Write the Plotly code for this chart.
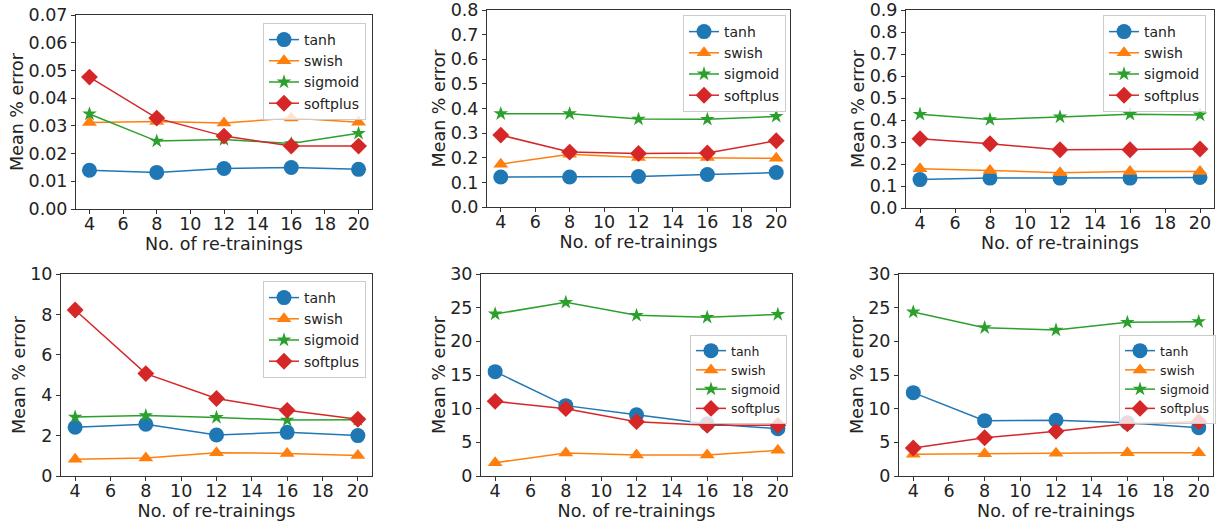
import plotly.graph_objects as go

x_vals = [4, 8, 12, 16, 20]
series_names = ["tanh", "swish", "sigmoid", "softplus"]

p1 = {"tanh": [0.0140, 0.0132, 0.0146, 0.0150, 0.0143],
      "swish": [0.0312, 0.0316, 0.0310, 0.0328, 0.0313],
      "sigmoid": [0.0343, 0.0245, 0.0251, 0.0236, 0.0273],
      "softplus": [0.0476, 0.0328, 0.0263, 0.0227, 0.0227]}
p2 = {"tanh": [0.122, 0.122, 0.124, 0.132, 0.140],
      "swish": [0.174, 0.214, 0.201, 0.201, 0.198],
      "sigmoid": [0.379, 0.379, 0.357, 0.356, 0.368],
      "softplus": [0.292, 0.223, 0.217, 0.219, 0.269]}
p3 = {"tanh": [0.129, 0.136, 0.136, 0.136, 0.139],
      "swish": [0.178, 0.171, 0.160, 0.166, 0.166],
      "sigmoid": [0.426, 0.402, 0.414, 0.426, 0.423],
      "softplus": [0.315, 0.292, 0.265, 0.265, 0.268]}
p4 = {"tanh": [2.41, 2.56, 2.03, 2.16, 2.00],
      "swish": [0.83, 0.89, 1.15, 1.12, 1.02],
      "sigmoid": [2.92, 2.99, 2.90, 2.77, 2.79],
      "softplus": [8.22, 5.07, 3.84, 3.25, 2.81]}
p5 = {"tanh": [15.5, 10.45, 9.1, 7.77, 7.03],
      "swish": [1.98, 3.42, 3.12, 3.12, 3.81],
      "sigmoid": [24.06, 25.79, 23.86, 23.56, 24.0],
      "softplus": [11.09, 10.0, 8.07, 7.52, 7.52]}
p6 = {"tanh": [12.38, 8.22, 8.27, 7.92, 7.18],
      "swish": [3.22, 3.32, 3.37, 3.47, 3.47],
      "sigmoid": [24.36, 22.03, 21.68, 22.82, 22.92],
      "softplus": [4.16, 5.69, 6.63, 7.77, 8.07]}
panels = [p1, p2, p3, p4, p5, p6]

y_tick_lists = [
    [0.00, 0.01, 0.02, 0.03, 0.04, 0.05, 0.06, 0.07],
    [0.0, 0.1, 0.2, 0.3, 0.4, 0.5, 0.6, 0.7, 0.8],
    [0.0, 0.1, 0.2, 0.3, 0.4, 0.5, 0.6, 0.7, 0.8, 0.9],
    [0, 2, 4, 6, 8, 10],
    [0, 5, 10, 15, 20, 25, 30],
    [0, 5, 10, 15, 20, 25, 30],
]
y_formats = [".2f", ".1f", ".1f", "d", "d", "d"]
x_tick_vals = [4, 6, 8, 10, 12, 14, 16, 18, 20]

colors = {"tanh": "#1f77b4", "swish": "#ff7f0e", "sigmoid": "#2ca02c", "softplus": "#d62728"}
symbols = {"tanh": "circle", "swish": "triangle-up", "sigmoid": "star", "softplus": "diamond"}
msizes = {"tanh": 15, "swish": 13, "sigmoid": 11, "softplus": 13}

W, H = 1225, 529
# axes boxes in pixels: (x0, x1, ytop, ybottom)
boxes = [(76, 372, 15, 209), (487, 790, 10, 207), (906, 1214, 10, 208),
         (61, 372, 274, 476), (481, 792, 274, 476), (899, 1213, 274, 476)]
# legend top-right corners in pixels and font sizes
legend_pos = [(366, 23, 14), (786, 15, 14), (1206, 15, 14),
              (366, 281, 14), (787, 335, 12.5), (1216, 335, 12.5)]

fig = go.Figure()
font_family = "DejaVu Sans"
tick_font = dict(family=font_family, size=17.5, color="#222")
title_font = dict(family=font_family, size=17.5, color="#222")

for i, pdata in enumerate(panels):
    k = "" if i == 0 else str(i + 1)
    lg = "legend" if i == 0 else "legend" + str(i + 1)
    for name in series_names:
        fig.add_trace(go.Scatter(
            x=x_vals, y=pdata[name], name=name, mode="lines+markers",
            line=dict(color=colors[name], width=1.5),
            marker=dict(symbol=symbols[name], size=msizes[name], color=colors[name]),
            xaxis="x" + k, yaxis="y" + k, legend=lg, showlegend=True))
    x0, x1, yt, yb = boxes[i]
    yt_list = y_tick_lists[i]
    axis_common = dict(showline=True, linecolor="#333", linewidth=1, mirror=True,
                       ticks="outside", ticklen=4, tickcolor="#333", showgrid=False,
                       zeroline=False, tickfont=tick_font, automargin=False,
                       ticklabeloverflow="allow")
    fig.layout["xaxis" + k] = dict(domain=[x0 / W, x1 / W], anchor="y" + k,
                                   range=[3.2, 20.8], tickvals=x_tick_vals,
                                   ticklabelstandoff=-5,
                                   title=dict(text="No. of re-trainings", font=title_font, standoff=0),
                                   **axis_common)
    fig.layout["yaxis" + k] = dict(domain=[1 - yb / H, 1 - yt / H], anchor="x" + k,
                                   range=[yt_list[0], yt_list[-1]], tickvals=yt_list,
                                   tickformat=y_formats[i],
                                   title=dict(text="Mean % error", font=title_font, standoff=0),
                                   **axis_common)
    lx, ly, fs = legend_pos[i]
    fig.layout[lg] = dict(x=lx / W, y=1 - ly / H, xanchor="right", yanchor="top",
                          xref="paper", yref="paper",
                          bgcolor="rgba(255,255,255,0.8)", bordercolor="#cccccc", borderwidth=1,
                          font=dict(family=font_family, size=fs, color="#222"),
                          itemwidth=30, tracegroupgap=0)

fig.update_layout(width=W, height=H, margin=dict(l=0, r=0, t=0, b=0, autoexpand=False),
                  plot_bgcolor="white", paper_bgcolor="white")
fig.write_html("out.html", config={"displayModeBar": False},
               post_script="document.body.style.margin='0px';")
